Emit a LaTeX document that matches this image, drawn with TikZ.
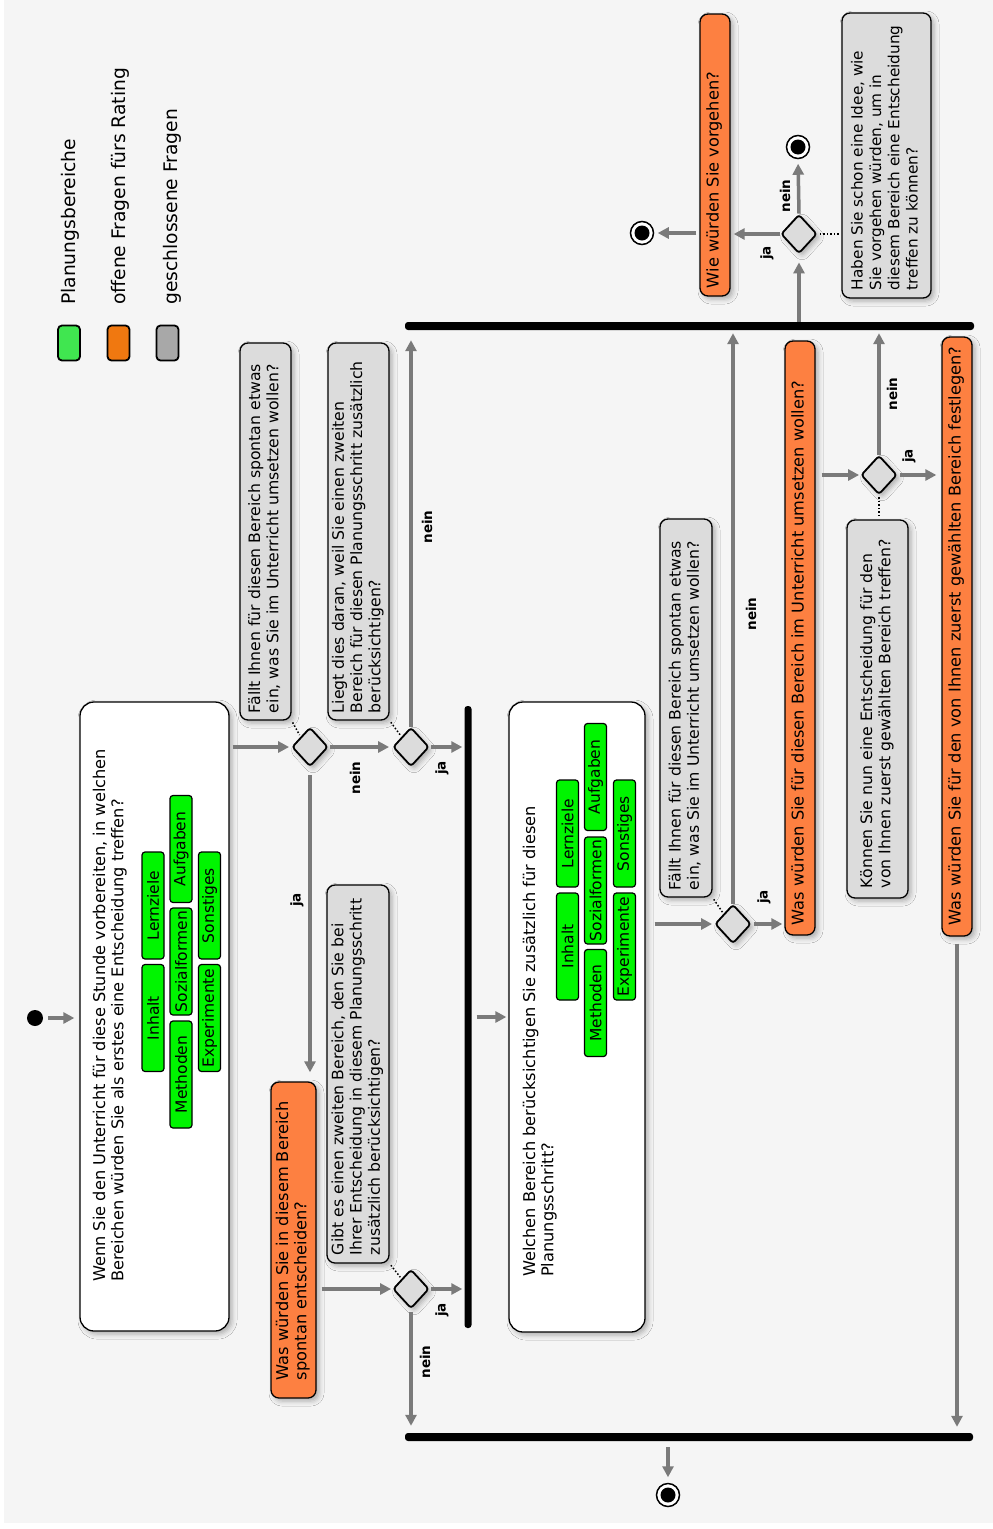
\documentclass[tikz,border=0pt]{standalone}
\usepackage{fontspec}
\setmainfont{DejaVu Sans}
\usetikzlibrary{shapes.geometric,arrows.meta,shadows.blur}
\definecolor{bgc}{HTML}{F5F5F5}
\definecolor{notec}{HTML}{DCDCDC}
\definecolor{orc}{HTML}{FD8041}
\definecolor{grn}{HTML}{00F500}
\definecolor{arrc}{HTML}{7A7A7A}
\definecolor{leggrn}{HTML}{40E650}
\definecolor{legor}{HTML}{F07810}
\definecolor{leggr}{HTML}{A8A8A8}
\newcommand{\rtx}[2]{\rotatebox{90}{\makebox[#1][l]{\begin{tabular}{@{}l@{}}#2\end{tabular}}}}
\newcommand{\rtt}[1]{\rotatebox{90}{\begin{tabular}{@{}l@{}}#1\end{tabular}}}
\newcommand{\rtl}[1]{\rotatebox{90}{#1}}
\begin{document}
\begin{tikzpicture}[x=1pt,y=-1pt,
  shd/.style={blur shadow={shadow xshift=3pt,shadow yshift=-3pt,shadow blur radius=5pt,shadow opacity=30}},
  wbox/.style={draw=black,line width=1.3pt,fill=white,rounded corners=14pt,inner sep=0,shd},
  note/.style={draw=black,line width=1.3pt,fill=notec,rounded corners=8pt,inner sep=0,shd,font=\fontsize{15.7}{18.3}\selectfont},
  obox/.style={draw=black,line width=1.3pt,fill=orc,rounded corners=8pt,inner sep=0,shd,font=\fontsize{16.2}{18.3}\selectfont},
  gbox/.style={draw=black,line width=1.2pt,fill=grn,rounded corners=3pt,inner sep=0,minimum width=22pt,minimum height=107pt,font=\fontsize{15.5}{18}\selectfont},
  legsq/.style={draw=black,line width=1.8pt,rounded corners=4pt,minimum width=22pt,minimum height=35pt,inner sep=0},
  legtxt/.style={inner sep=0,font=\fontsize{18.7}{22}\selectfont},
  txt/.style={inner sep=0,font=\fontsize{16.2}{18.3}\selectfont},
  dec/.style={diamond,draw=black,line width=1.8pt,fill=notec,rounded corners=3pt,minimum width=36pt,minimum height=39pt,inner sep=0,shd},
  barst/.style={fill=black,rounded corners=3pt,inner sep=0},
  endst/.style={circle,draw=black,line width=1.5pt,fill=white,minimum size=23pt,inner sep=0,path picture={\fill[black] (path picture bounding box.center) circle (7.5pt);}},
  arr/.style={draw=arrc,line width=3.5pt,-{Triangle[length=11pt,width=11pt]}},
  dots/.style={draw=black,line width=1.5pt,dash pattern=on 1.5pt off 2pt,shorten <=2pt,shorten >=2pt},
  lbl/.style={inner sep=0,font=\bfseries\fontsize{13.5}{16}\selectfont},
]
\useasboundingbox (0,0) rectangle (993,1529);
\fill[white] (0,0) rectangle (993,1529);
\fill[bgc] (4,0) rectangle (993,1523);

% legend
\node[legsq,fill=leggrn] (lg1) at (69,343) {};
\node[legsq,fill=legor] (lg2) at (118.5,343) {};
\node[legsq,fill=leggr] (lg3) at (167.5,343) {};
\node[legtxt,anchor=south west] (lt1) at (61,305) {\rtl{Planungsbereiche}};
\node[legtxt,anchor=south west] (lt2) at (111,305) {\rtl{offene Fragen fürs Rating}};
\node[legtxt,anchor=south west] (lt3) at (163,305) {\rtl{geschlossene Fragen}};

% start
\node[circle,fill=black,minimum size=16pt,inner sep=0] (start) at (35,1018) {};

% main boxes
\node[wbox,minimum width=149pt,minimum height=629pt] (box1) at (154.5,1016.5) {};
\node[txt,anchor=south west] (t1) at (92,1282) {\rtt{Wenn Sie den Unterricht für diese Stunde vorbereiten, in welchen\\Bereichen würden Sie als erstes eine Entscheidung treffen?}};
\node[gbox] (g1a) at (153,1018) {\rtl{Inhalt}};
\node[gbox] (g1b) at (153,905.5) {\rtl{Lernziele}};
\node[gbox] (g1c) at (181,1074.5) {\rtl{Methoden}};
\node[gbox] (g1d) at (181,961.5) {\rtl{Sozialformen}};
\node[gbox] (g1e) at (181,849) {\rtl{Aufgaben}};
\node[gbox] (g1f) at (209.5,1018) {\rtl{Experimente}};
\node[gbox] (g1g) at (209.5,905.5) {\rtl{Sonstiges}};

\node[wbox,minimum width=136pt,minimum height=630pt] (box2) at (577,1017) {};
\node[txt,anchor=south west] (t2) at (522,1277) {\rtt{Welchen Bereich berücksichtigen Sie zusätzlich für diesen\\Planungsschritt?}};
\node[gbox] (g2a) at (567.5,946.5) {\rtl{Inhalt}};
\node[gbox] (g2b) at (567.5,833.5) {\rtl{Lernziele}};
\node[gbox] (g2c) at (595.5,1003) {\rtl{Methoden}};
\node[gbox] (g2d) at (595.5,890.5) {\rtl{Sozialformen}};
\node[gbox] (g2e) at (595.5,777) {\rtl{Aufgaben}};
\node[gbox] (g2f) at (624.5,946.5) {\rtl{Experimente}};
\node[gbox] (g2g) at (624.5,833.5) {\rtl{Sonstiges}};

% bars
\node[barst,minimum width=7pt,minimum height=622pt] (bar1) at (468,1017) {};
\node[barst,minimum width=569pt,minimum height=8pt] (topbar) at (689.5,326) {};
\node[barst,minimum width=568pt,minimum height=8pt] (botbar) at (689,1437) {};

% notes
\node[note,minimum width=51pt,minimum height=377pt] (n1) at (265.5,531.5) {\rtx{363pt}{Fällt Ihnen für diesen Bereich spontan etwas\\ein, was Sie im Unterricht umsetzen wollen?}};
\node[note,minimum width=61pt,minimum height=377pt] (n2) at (358.5,531.5) {\rtx{363pt}{Liegt dies daran, weil Sie einen zweiten\\Bereich für diesen Planungsschritt zusätzlich\\berücksichtigen?}};
\node[note,minimum width=62pt,minimum height=378pt] (n3) at (358,1074) {\rtx{362pt}{Gibt es einen zweiten Bereich, den Sie bei\\Ihrer Entscheidung in diesem Planungsschritt\\zusätzlich berücksichtigen?}};
\node[note,minimum width=52pt,minimum height=378pt] (n4) at (686,708) {\rtx{364pt}{Fällt Ihnen für diesen Bereich spontan etwas\\ein, was Sie im Unterricht umsetzen wollen?}};
\node[note,minimum width=61pt,minimum height=378pt] (n5) at (877.5,709) {\rtx{358pt}{Können Sie nun eine Entscheidung für den\\von Ihnen zuerst gewählten Bereich treffen?}};
\node[note,minimum width=89pt,minimum height=285pt,font=\fontsize{15.3}{18.3}\selectfont] (n6) at (886.5,155.5) {\rtx{269pt}{Haben Sie schon eine Idee, wie\\Sie vorgehen würden, um in\\diesem Bereich eine Entscheidung\\treffen zu können?}};

% orange boxes
\node[obox,minimum width=45pt,minimum height=316pt] (o1) at (293.5,1240) {\rtx{280pt}{Was würden Sie in diesem Bereich\\spontan entscheiden?}};
\node[obox,minimum width=30pt,minimum height=594pt] (o2) at (800,638) {\rtx{574pt}{Was würden Sie für diesen Bereich im Unterricht umsetzen wollen?}};
\node[obox,minimum width=30pt,minimum height=599pt] (o3) at (957,636.5) {\rtx{577pt}{Was würden Sie für den von Ihnen zuerst gewählten Bereich festlegen?}};
\node[obox,minimum width=30pt,minimum height=282pt] (o4) at (715,155) {\rtx{266pt}{Wie würden Sie vorgehen?}};

% decisions
\node[dec] (D1) at (310,747) {};
\node[dec] (D2) at (411,747) {};
\node[dec] (D3) at (411,1289) {};
\node[dec] (D4) at (733,924) {};
\node[dec] (D5) at (879,475) {};
\node[dec] (D6) at (799,234) {};

% end nodes
\node[endst] (e1) at (668,1495) {};
\node[endst] (e2) at (798,147) {};
\node[endst] (e3) at (642,233) {};

% arrows
\draw[arr,shorten <=5pt,shorten >=5pt] (start) -- (box1.west |- start);
\draw[arr,shorten <=3pt,shorten >=2pt] (box1.east |- D1) -- (D1.west);
\draw[arr,shorten <=1pt,shorten >=3pt] (D1.east) -- (D2.west);
\draw[arr,shorten <=1pt,shorten >=2pt] (D2.east) -- (bar1.west |- D2);
\draw[arr,shorten >=10pt] (D2.north) -- (D2 |- topbar.south);
\draw[arr,shorten <=8pt,shorten >=9pt] (D1.south) -- (D1 |- o1.north);
\draw[arr,shorten <=5pt,shorten >=1pt] (o1.east |- D3) -- (D3.west);
\draw[arr,shorten <=1pt,shorten >=2pt] (D3.east) -- (bar1.west |- D3);
\draw[arr,shorten <=3pt,shorten >=7pt] (D3.south) -- (D3 |- botbar.north);
\draw[arr,shorten <=5pt,shorten >=2pt] (bar1.east |- box2) -- (box2.west);
\draw[arr,shorten <=9pt,shorten >=2pt] (box2.east |- D4) -- (D4.west);
\draw[arr,shorten <=2pt,shorten >=2pt] (D4.east) -- (o2.west |- D4);
\draw[arr,shorten >=3pt] (D4.north) -- (D4 |- topbar.south);
\draw[arr,shorten <=6pt,shorten >=1pt] (o2.east |- D5) -- (D5.west);
\draw[arr,shorten <=2pt,shorten >=5pt] (D5.east) -- (o3.west |- D5);
\draw[arr,shorten >=3pt] (D5.north) -- (D5 |- topbar.south);
\draw[arr,shorten <=7pt,shorten >=6pt] (o3.south) -- (o3.south |- botbar.north);
\draw[arr,shorten >=8pt] (D6 |- topbar.north) -- (D6.south);
\draw[arr,shorten >=3pt] (D6.west) -- (o4.east |- D6);
\draw[arr,shorten >=4.5pt] (D6.north) -- (e2.south);
\draw[arr,shorten <=3pt,shorten >=3.5pt] (o4.west |- e3) -- (e3.east);
\draw[arr,shorten <=6pt,shorten >=5.5pt] (e1 |- botbar.south) -- (e1.north);

% dotted note links
\draw[dots] (n1.south east) -- (D1.north west);
\draw[dots] (n2.south east) -- (D2.north west);
\draw[dots] (n3.south east) -- (D3.north west);
\draw[dots] (n4.south east) -- (D4.north west);
\draw[dots] (D5.south) -- (D5 |- n5.north);
\draw[dots] (D6.east) -- (n6.west |- D6);

% labels
\node[lbl] (l1) at (297,900) {\rtl{ja}};
\node[lbl] (l2) at (355,778) {\rtl{nein}};
\node[lbl] (l3) at (442,768) {\rtl{ja}};
\node[lbl] (l4) at (427,527) {\rtl{nein}};
\node[lbl] (l5) at (442,1310) {\rtl{ja}};
\node[lbl] (l6) at (425,1362) {\rtl{nein}};
\node[lbl] (l7) at (764,897) {\rtl{ja}};
\node[lbl] (l8) at (751,614) {\rtl{nein}};
\node[lbl] (l9) at (909,456) {\rtl{ja}};
\node[lbl] (l10) at (892,394) {\rtl{nein}};
\node[lbl] (l11) at (767,253) {\rtl{ja}};
\node[lbl] (l12) at (785,196) {\rtl{nein}};
\end{tikzpicture}
\end{document}
